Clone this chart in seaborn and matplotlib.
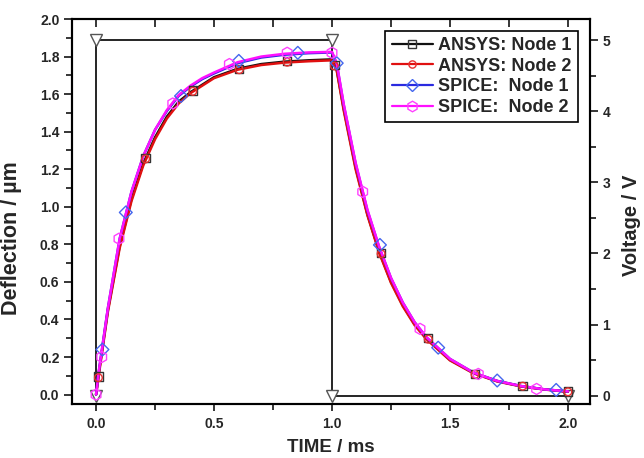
import matplotlib
matplotlib.use("Agg")
import matplotlib.pyplot as plt
import seaborn as sns
import pandas as pd
from matplotlib.lines import Line2D
from matplotlib.ticker import MultipleLocator

# ---------------- data ----------------
t_curve = [0, 0.01, 0.05, 0.1, 0.15, 0.2, 0.25, 0.3, 0.35, 0.4, 0.45, 0.5, 0.6, 0.7,
           0.8, 0.9, 1.0, 1.02, 1.05, 1.1, 1.15, 1.2, 1.25, 1.3, 1.35, 1.4, 1.5, 1.6,
           1.7, 1.8, 1.9, 2.0]
ansys_node1 = [0, 0.10, 0.45, 0.79, 1.04, 1.23, 1.37, 1.48, 1.56, 1.61, 1.65, 1.69, 1.735,
               1.76, 1.773, 1.78, 1.785, 1.73, 1.52, 1.21, 0.96, 0.76, 0.60, 0.475, 0.375,
               0.30, 0.185, 0.115, 0.072, 0.045, 0.028, 0.016]
ansys_node2 = [0, 0.09, 0.44, 0.78, 1.03, 1.22, 1.36, 1.47, 1.55, 1.605, 1.645, 1.685, 1.73,
               1.755, 1.768, 1.775, 1.78, 1.725, 1.51, 1.20, 0.955, 0.755, 0.595, 0.47,
               0.37, 0.295, 0.182, 0.113, 0.07, 0.044, 0.027, 0.015]
spice_node1 = [0, 0.11, 0.46, 0.83, 1.08, 1.27, 1.41, 1.51, 1.59, 1.64, 1.68, 1.71, 1.765,
               1.795, 1.81, 1.818, 1.822, 1.76, 1.54, 1.23, 0.98, 0.785, 0.62, 0.49, 0.385,
               0.305, 0.19, 0.117, 0.073, 0.046, 0.028, 0.017]
spice_node2 = [0, 0.11, 0.46, 0.83, 1.08, 1.27, 1.41, 1.515, 1.595, 1.645, 1.685, 1.715, 1.77,
               1.80, 1.815, 1.822, 1.825, 1.765, 1.545, 1.235, 0.985, 0.787, 0.622, 0.49,
               0.386, 0.306, 0.19, 0.117, 0.073, 0.046, 0.028, 0.017]

# marker positions
ansys_mark_t = [0.01, 0.21, 0.41, 0.607, 0.81, 1.01, 1.208, 1.408, 1.606, 1.808, 2.0]
ansys1_mark_y = [0.096, 1.26, 1.62, 1.735, 1.775, 1.755, 0.753, 0.30, 0.11, 0.046, 0.016]
ansys2_mark_y = [0.09, 1.255, 1.615, 1.73, 1.77, 1.75, 0.75, 0.295, 0.108, 0.045, 0.015]
spice1_mark_t = [0.027, 0.126, 0.36, 0.605, 0.855, 1.02, 1.203, 1.45, 1.70, 1.95]
spice1_mark_y = [0.24, 0.97, 1.59, 1.777, 1.82, 1.765, 0.797, 0.25, 0.075, 0.025]
spice2_mark_t = [0.0, 0.024, 0.097, 0.325, 0.565, 0.81, 1.0, 1.13, 1.373, 1.62, 1.867]
spice2_mark_y = [0.0, 0.20, 0.83, 1.55, 1.76, 1.82, 1.82, 1.08, 0.35, 0.11, 0.03]

volt_t = [0, 0, 1, 1, 2]
volt_v = [0, 5, 5, 0, 0]

labels = ["ANSYS: Node 1", "ANSYS: Node 2", "SPICE:  Node 1", "SPICE:  Node 2"]

# ---------------- style ----------------
sns.set_theme(style="ticks")
plt.rcParams["font.family"] = ["Liberation Sans", "DejaVu Sans"]
plt.rcParams["font.weight"] = "bold"

fig = plt.figure(figsize=(6.44, 4.58), dpi=100)
ax = fig.add_axes([0.1118, 0.1179, 0.8042, 0.8406])
ax2 = ax.twinx()
ax.set_zorder(ax2.get_zorder() + 1)
ax.patch.set_visible(False)

curves = pd.DataFrame({"t": t_curve, "a1": ansys_node1, "a2": ansys_node2,
                       "s1": spice_node1, "s2": spice_node2})
volt = pd.DataFrame({"t": volt_t, "v": volt_v})

# voltage on right axis
sns.lineplot(data=volt, x="t", y="v", ax=ax2, color="black", lw=1.2, sort=False,
             estimator=None, marker="v", markersize=8, markerfacecolor="white",
             markeredgecolor="#555555", markeredgewidth=1.0)

specs = [
    ("a1", ansys_mark_t, ansys1_mark_y, "#111111", "#333333", "s", 6),
    ("a2", ansys_mark_t, ansys2_mark_y, "#e01010", "#e83030", "o", 5.5),
    ("s1", spice1_mark_t, spice1_mark_y, "#2a2ae0", "#4466ee", "D", 6.5),
    ("s2", spice2_mark_t, spice2_mark_y, "#ff10ff", "#ff40ff", "h", 8),
]
handles = []
for (col, mt, my, lc, mc, mk, ms), lab in zip(specs, labels):
    sns.lineplot(data=curves, x="t", y=col, ax=ax, color=lc, lw=1.8, estimator=None)
    mdf = pd.DataFrame({"t": mt, "y": my})
    sns.scatterplot(data=mdf, x="t", y="y", ax=ax, marker=mk, s=ms ** 2,
                    facecolor="none", edgecolor=mc, linewidth=1.0, zorder=5)
    handles.append(Line2D([], [], color=lc, lw=1.6, marker=mk, markersize=ms * 0.95,
                          markerfacecolor="none", markeredgecolor=mc, markeredgewidth=1.0))

# limits / ticks
ax.set_xlim(-0.102, 2.093)
ax.set_ylim(-0.05, 2.0)
ax2.set_ylim(-0.118, 5.3)

ax.xaxis.set_major_locator(MultipleLocator(0.5))
ax.xaxis.set_minor_locator(MultipleLocator(0.25))
ax.yaxis.set_major_locator(MultipleLocator(0.2))
ax.yaxis.set_minor_locator(MultipleLocator(0.1))
ax2.yaxis.set_major_locator(MultipleLocator(1))
ax2.yaxis.set_minor_locator(MultipleLocator(0.5))

ax.xaxis.set_major_formatter(matplotlib.ticker.FormatStrFormatter("%.1f"))
ax.yaxis.set_major_formatter(matplotlib.ticker.FormatStrFormatter("%.1f"))

ax.tick_params(axis="x", which="major", direction="out", length=5, width=1.3,
               labelsize=10, pad=4, top=True)
ax.tick_params(axis="x", which="minor", direction="out", length=4, width=1.3, top=True)
ax.tick_params(axis="y", which="major", direction="out", length=6, width=1.3,
               labelsize=10, pad=3)
ax.tick_params(axis="y", which="minor", direction="out", length=4, width=1.3)
ax2.tick_params(axis="y", which="major", direction="out", length=6, width=1.3,
                labelsize=10, pad=3)
ax2.tick_params(axis="y", which="minor", direction="out", length=4, width=1.3)

# top ticks point inward
for tk in ax.xaxis.get_major_ticks() + ax.xaxis.get_minor_ticks():
    tk.tick2line.set_marker(matplotlib.lines.TICKDOWN)
    tk.tick2line.set_markersize(6)

for a in (ax, ax2):
    for s in a.spines.values():
        s.set_linewidth(1.5)
        s.set_color("black")
    for lab in a.get_xticklabels() + a.get_yticklabels():
        lab.set_fontweight("bold")

ax.set_xlabel("TIME / ms", fontsize=13.5, fontweight="bold", labelpad=6)
ax.set_ylabel("Deflection / µm", fontsize=15.5, fontweight="bold")
ax.yaxis.set_label_coords(-0.097, 0.43)
ax2.set_ylabel("Voltage / V", fontsize=14.5, fontweight="bold")
ax2.yaxis.set_label_coords(1.062, 0.465)

leg = ax.legend(handles, labels, loc="upper right", frameon=True,
                fancybox=False, edgecolor="black", framealpha=1, borderaxespad=0.65,
                handlelength=2.3, handletextpad=0.3, labelspacing=0.2, borderpad=0.35,
                prop={"weight": "bold", "size": 13})
leg.get_frame().set_linewidth(1.2)

fig.savefig("out.png", dpi=100)
